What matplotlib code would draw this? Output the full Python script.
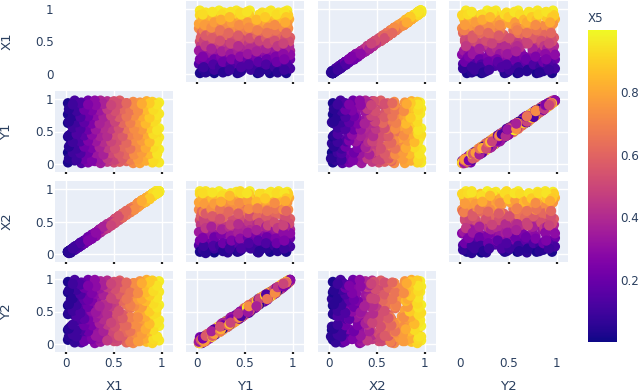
import matplotlib
matplotlib.use('Agg')
import matplotlib.pyplot as plt
from matplotlib.cm import ScalarMappable
from matplotlib.colors import Normalize

plt.rcParams['font.family'] = ['DejaVu Sans']

# values, one line per band of Y1
x1 = [.50,.16,.84,.02,.70,.30,.97,.43,.09,.77,.23,.63,.90,.36,.56,
      .13,.53,.87,.26,.67,.05,.40,.80,.19,.94,.33,.60,.74,.47,
      .77,.30,.02,.56,.90,.16,.63,.43,.97,.09,.70,.23,.84,.36,.50,
      .40,.94,.13,.67,.26,.80,.05,.53,.87,.33,.19,.74,.47,.60,
      .09,.63,.36,.97,.23,.50,.84,.02,.70,.43,.16,.90,.56,.30,.77,
      .74,.19,.60,.05,.87,.33,.47,.94,.13,.67,.26,.80,.53,.40,
      .30,.84,.56,.16,.97,.43,.70,.02,.23,.90,.50,.09,.77,.36,.63,
      .94,.47,.13,.74,.33,.60,.87,.05,.53,.26,.80,.19,.67,.40,
      .56,.09,.90,.36,.70,.23,.97,.50,.16,.84,.43,.02,.63,.30,.77,
      .26,.67,.05,.80,.40,.94,.19,.53,.74,.13,.87,.33,.60,.47,
      .43,.97,.23,.70,.02,.56,.84,.16,.36,.90,.63,.09,.50,.77,.30,
      .51,.19,.83,.03,.67,.35,.91,.43,.11,.75,.27,.59,
      .31,.87,.07,.63,.47,.95,.23,.71,.15,.55,.79,.39,
      .91,.27,.59,.11,.75,.43,.03,.67,.35,.83,.19,.51,
      .15,.71,.39,.95,.55,.07,.79,.31,.63,.23,.87,.47,
      .67,.03,.83,.35,.51,.19,.91,.59,.27,.75,.11,.43,
      .47,.87,.23,.63,.07,.79,.39,.15,.95,.55,.31,.71,
      .11,.59,.91,.27,.75,.43,.03,.83,.19,.67,.51,.35,
      .79,.31,.55,.07,.95,.39,.71,.23,.87,.47,.15,.63,
      .35,.83,.11,.59,.27,.91,.51,.03,.67,.19,.75,.43,
      .55,.95,.15,.71,.39,.07,.87,.31,.79,.23,.63,.47]
y1 = [.03,.02,.06,.03,.02,.05,.03,.04,.06,.02,.03,.05,.03,.02,.04,
      .13,.09,.15,.11,.08,.12,.14,.10,.16,.09,.13,.11,.15,.08,
      .20,.24,.18,.22,.25,.19,.21,.17,.23,.20,.24,.18,.22,.25,.19,
      .33,.28,.31,.27,.34,.29,.32,.26,.30,.35,.28,.33,.27,.31,
      .40,.43,.37,.41,.44,.36,.39,.42,.38,.45,.37,.41,.43,.36,.40,
      .47,.52,.50,.46,.53,.48,.51,.45,.54,.49,.47,.52,.50,.46,
      .59,.56,.62,.58,.55,.61,.57,.63,.60,.54,.58,.62,.56,.60,.59,
      .68,.71,.65,.70,.66,.72,.67,.64,.69,.73,.66,.70,.68,.65,
      .78,.81,.75,.79,.82,.76,.77,.80,.74,.78,.83,.76,.79,.81,.75,
      .87,.89,.84,.88,.90,.85,.86,.91,.83,.88,.86,.90,.85,.87,
      .96,.94,.97,.95,.93,.97,.96,.94,.97,.95,.93,.97,.96,.94,.97,
      .07,.08,.06,.09,.07,.08,.06,.09,.07,.08,.06,.09,
      .17,.16,.18,.15,.17,.16,.18,.15,.17,.16,.18,.15,
      .26,.25,.27,.24,.26,.25,.27,.24,.26,.25,.27,.24,
      .35,.36,.34,.35,.37,.34,.36,.35,.33,.36,.34,.35,
      .45,.44,.46,.43,.45,.44,.46,.43,.45,.44,.46,.43,
      .54,.55,.53,.54,.56,.53,.55,.54,.52,.55,.53,.54,
      .64,.63,.65,.62,.64,.63,.65,.62,.64,.63,.65,.62,
      .73,.74,.72,.73,.75,.72,.74,.73,.71,.74,.72,.73,
      .82,.83,.81,.84,.82,.83,.81,.84,.82,.83,.81,.84,
      .92,.91,.93,.90,.92,.91,.93,.90,.92,.91,.93,.90]
x2 = [.52,.14,.86,.04,.68,.32,.96,.45,.07,.79,.21,.65,.92,.34,.58,
      .11,.55,.89,.24,.65,.07,.42,.78,.21,.96,.31,.62,.72,.49,
      .75,.32,.03,.54,.92,.18,.61,.45,.96,.11,.72,.21,.82,.38,.52,
      .42,.92,.15,.65,.28,.82,.03,.55,.85,.35,.17,.76,.45,.62,
      .07,.65,.34,.95,.25,.48,.86,.04,.72,.41,.14,.88,.58,.32,.75,
      .76,.17,.62,.07,.85,.35,.45,.96,.11,.69,.24,.82,.51,.42,
      .28,.86,.54,.18,.96,.45,.68,.04,.21,.92,.52,.11,.79,.34,.61,
      .92,.49,.15,.72,.35,.58,.89,.03,.55,.28,.78,.21,.65,.42,
      .58,.11,.88,.38,.72,.21,.95,.48,.18,.86,.45,.04,.65,.28,.75,
      .24,.69,.07,.82,.38,.96,.17,.55,.76,.11,.85,.35,.62,.45,
      .45,.95,.25,.68,.04,.54,.86,.14,.38,.92,.61,.12,.47,.79,.32,
      .54,.17,.85,.02,.64,.37,.93,.40,.13,.77,.25,.62,
      .33,.84,.09,.66,.44,.94,.26,.69,.13,.58,.77,.42,
      .89,.30,.56,.13,.78,.40,.05,.69,.38,.80,.17,.54,
      .18,.68,.41,.93,.52,.09,.82,.28,.65,.21,.89,.45,
      .64,.05,.85,.33,.54,.21,.93,.62,.24,.78,.09,.46,
      .49,.84,.26,.60,.09,.82,.37,.17,.93,.58,.33,.69,
      .13,.56,.92,.30,.72,.46,.05,.80,.21,.70,.48,.37,
      .82,.28,.58,.09,.93,.42,.68,.26,.85,.44,.17,.66,
      .38,.80,.13,.62,.24,.93,.48,.05,.69,.17,.78,.40,
      .58,.93,.17,.68,.42,.09,.85,.33,.81,.21,.66,.44]
y2 = [.05,.03,.04,.07,.02,.02,.06,.08,.03,.05,.11,.03,.02,.04,.07,
      .16,.05,.19,.08,.11,.16,.11,.15,.13,.12,.09,.16,.11,.12,
      .24,.20,.22,.26,.21,.15,.26,.14,.28,.17,.19,.23,.18,.30,.16,
      .29,.32,.36,.22,.38,.26,.27,.30,.35,.31,.33,.28,.32,.26,
      .44,.38,.42,.37,.48,.40,.34,.46,.33,.42,.41,.36,.39,.41,.35,
      .43,.57,.45,.50,.49,.52,.56,.48,.49,.55,.42,.48,.54,.41,
      .63,.51,.65,.55,.60,.56,.61,.59,.55,.58,.62,.66,.52,.57,.64,
      .72,.67,.70,.74,.63,.76,.64,.69,.73,.68,.71,.65,.72,.61,
      .81,.77,.79,.75,.85,.72,.80,.83,.77,.74,.80,.79,.82,.78,.72,
      .89,.87,.86,.91,.87,.88,.83,.90,.86,.85,.89,.88,.87,.84,
      .97,.96,.98,.93,.95,.97,.98,.94,.96,.97,.92,.98,.95,.96,.98,
      .10,.05,.09,.12,.04,.11,.08,.06,.12,.05,.09,.13,
      .13,.20,.15,.19,.21,.12,.20,.18,.22,.13,.16,.20,
      .22,.29,.31,.21,.27,.30,.24,.20,.32,.23,.29,.27,
      .39,.31,.38,.33,.40,.30,.39,.41,.29,.38,.31,.33,
      .41,.48,.42,.47,.49,.39,.46,.40,.50,.41,.43,.47,
      .58,.50,.57,.60,.51,.57,.59,.48,.56,.51,.49,.58,
      .60,.67,.62,.66,.68,.59,.61,.66,.68,.59,.69,.58,
      .69,.77,.76,.70,.71,.75,.78,.68,.74,.70,.76,.69,
      .85,.79,.83,.86,.78,.81,.84,.82,.79,.86,.78,.87,
      .94,.89,.91,.93,.90,.92,.95,.88,.93,.89,.94,.92]
x5 = [.52,.14,.86,.02,.72,.28,.96,.45,.07,.79,.24,.61,.92,.34,.58,
      .15,.51,.89,.24,.69,.04,.42,.78,.21,.95,.31,.62,.76,.49,
      .75,.32,.01,.58,.88,.14,.65,.41,.97,.10,.72,.25,.85,.33,.53,
      .38,.95,.12,.69,.27,.78,.06,.55,.88,.31,.20,.73,.46,.63,
      .10,.60,.37,.96,.22,.52,.82,.03,.73,.41,.17,.91,.54,.29,.79,
      .76,.17,.58,.05,.89,.35,.49,.93,.14,.65,.28,.81,.51,.39,
      .31,.83,.59,.15,.97,.41,.72,.01,.25,.89,.48,.08,.79,.37,.64,
      .94,.45,.11,.76,.32,.62,.85,.06,.55,.24,.82,.18,.68,.43,
      .54,.10,.91,.33,.68,.25,.96,.52,.14,.86,.45,.02,.61,.32,.78,
      .28,.66,.04,.79,.42,.96,.20,.51,.73,.15,.88,.30,.63,.48,
      .41,.97,.21,.72,.02,.58,.82,.17,.38,.90,.60,.11,.53,.75,.29,
      .49,.21,.81,.05,.69,.33,.93,.45,.09,.77,.25,.57,
      .33,.85,.09,.61,.50,.95,.21,.73,.13,.57,.77,.37,
      .93,.25,.61,.09,.73,.45,.05,.65,.37,.81,.21,.53,
      .13,.73,.41,.95,.53,.09,.77,.33,.61,.25,.85,.49,
      .69,.05,.81,.37,.53,.17,.93,.57,.29,.73,.13,.41,
      .45,.89,.21,.65,.09,.77,.41,.13,.95,.53,.33,.73,
      .09,.61,.93,.25,.77,.41,.05,.85,.17,.69,.49,.37,
      .81,.29,.57,.05,.95,.37,.73,.21,.89,.49,.13,.65,
      .33,.85,.09,.61,.25,.93,.53,.05,.65,.21,.73,.45,
      .53,.95,.13,.73,.37,.09,.89,.29,.81,.25,.61,.49]

dims = ['X1', 'Y1', 'X2', 'Y2']
columns = [x1, y1, x2, y2]
ticks = [0, 0.5, 1]
tick_labels = ['0', '0.5', '1']
cbar_ticks = [0.2, 0.4, 0.6, 0.8]

W, H = 640, 392
col_px = [(55, 173), (186, 304), (318, 436), (449, 568)]
row_px = [(1, 82), (91, 172), (181, 262), (271, 352)]
ink = '#2a3f5f'
norm = Normalize(0, 1)

fig = plt.figure(figsize=(W / 100, H / 100), dpi=100)

def px_axes(left, right, top, bottom):
    return fig.add_axes([left / W, 1 - bottom / H, (right - left) / W, (bottom - top) / H])

for r in range(4):
    for c in range(4):
        ax = px_axes(col_px[c][0], col_px[c][1], row_px[r][0], row_px[r][1])
        ax.set_xlim(-0.115, 1.115)
        ax.set_ylim(-0.115, 1.115)
        ax.set_xticks(ticks)
        ax.set_yticks(ticks)
        ax.set_xticklabels(tick_labels if r == 3 else [])
        ax.set_yticklabels(tick_labels if c == 0 else [])
        for s in ax.spines.values():
            s.set_visible(False)
        ax.tick_params(axis='y', length=0, pad=1, labelsize=8.6, labelcolor=ink)
        if r == c:
            # blank diagonal, only the outer labels stay
            ax.patch.set_visible(False)
            ax.tick_params(axis='x', length=0, pad=3.5, labelsize=8.6, labelcolor=ink)
            continue
        ax.tick_params(axis='x', length=1.6, width=1.6, color='#222222', pad=2,
                       labelsize=8.6, labelcolor=ink)
        ax.set_facecolor('#e9eef7')
        ax.grid(color='white', linewidth=1)
        ax.set_axisbelow(True)
        ax.scatter(columns[c], columns[r], c=x5, cmap='plasma', norm=norm, s=54, linewidths=0)

# axis titles
for c, name in enumerate(dims):
    fig.text((col_px[c][0] + col_px[c][1]) / 2 / W, 1 - 386 / H, name, color=ink,
             fontsize=9.6, ha='center', va='center')
for r, name in enumerate(dims):
    fig.text(7 / W, 1 - (row_px[r][0] + row_px[r][1]) / 2 / H, name, color=ink,
             fontsize=9.6, ha='center', va='center', rotation=90)

# colorbar
cax = px_axes(588, 617, 30, 342)
cb = fig.colorbar(ScalarMappable(norm=norm, cmap='plasma'), cax=cax)
cb.outline.set_visible(False)
cb.set_ticks(cbar_ticks)
cb.set_ticklabels(['0.2', '0.4', '0.6', '0.8'])
cax.tick_params(length=0, pad=2.5, labelsize=8.6, labelcolor=ink)
fig.text(588 / W, 1 - 18 / H, 'X5', color=ink, fontsize=8.6, ha='left', va='center')

fig.savefig('out.png', dpi=100)
